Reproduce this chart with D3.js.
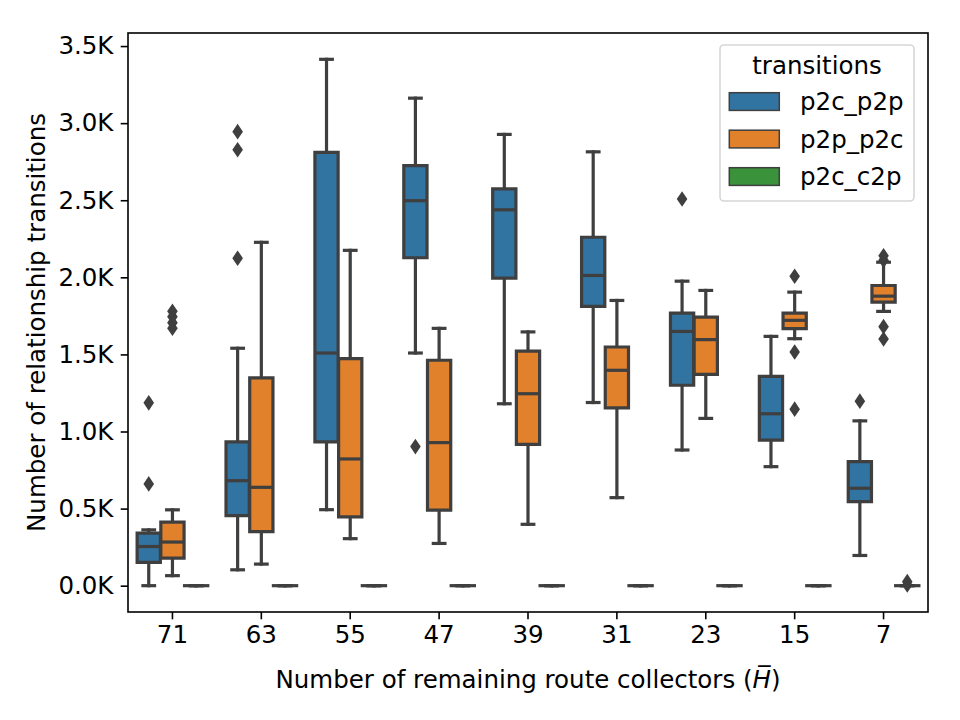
<!DOCTYPE html>
<html>
<head>
<meta charset="utf-8">
<script src="https://cdn.jsdelivr.net/npm/d3@7"></script>
<style>
  body { margin: 0; background: #fff; }
  svg { display: block; font-family: "DejaVu Sans", sans-serif; }
</style>
</head>
<body>
<div id="chart"></div>
<script>
// Categories on the x axis (remaining route collectors)
const categories = ["71", "63", "55", "47", "39", "31", "23", "15", "7"];
const hues = ["p2c_p2p", "p2p_p2c", "p2c_c2p"];
const hueColors = ["#3274a1", "#e1812c", "#3a923a"];

// Box summaries per category: [whiskerLow, q1, median, q3, whiskerHigh]
const p2cP2pStats = [
    [0, 151, 254, 341, 362],
    [103, 455, 681, 933, 1540],
    [493, 933, 1509, 2810, 3414],
    [1509, 2127, 2497, 2725, 3162],
    [1180, 1995, 2438, 2574, 2927],
    [1188, 1811, 2012, 2260, 2814],
    [880, 1300, 1649, 1768, 1975],
    [772, 944, 1115, 1358, 1617],
    [196, 545, 632, 804, 1069]
];
const p2cP2pFliers = [[660, 1186], [2124, 2827, 2945], [], [902], [], [], [2508], [], [1197]];

const p2pP2cStats = [
    [65, 179, 283, 412, 492],
    [140, 351, 638, 1348, 2227],
    [305, 446, 822, 1473, 2175],
    [274, 490, 928, 1462, 1669],
    [398, 916, 1245, 1521, 1646],
    [571, 1153, 1397, 1548, 1850],
    [1085, 1371, 1596, 1742, 1915],
    [1602, 1667, 1721, 1768, 1904],
    [1779, 1839, 1878, 1947, 2098]
];
const p2pP2cFliers = [[1670, 1705, 1745, 1780], [], [], [], [], [], [], [1145, 1516, 2007], [1600, 1680, 2110, 2140]];

const p2cC2pStats = [
    [0, 0, 0, 0, 0], [0, 0, 0, 0, 0], [0, 0, 0, 0, 0],
    [0, 0, 0, 0, 0], [0, 0, 0, 0, 0], [0, 0, 0, 0, 0],
    [0, 0, 0, 0, 0], [0, 0, 0, 0, 0], [0, 0, 0, 0, 0]
];
const p2cC2pFliers = [[], [], [], [], [], [], [], [], [4, 26]];

const yTicks = [0, 500, 1000, 1500, 2000, 2500, 3000, 3500];

const drawBoxChart = (containerId) => {
    const width = 960;
    const height = 720;
    const margin = { top: 33, right: 32, bottom: 108, left: 128 };
    const innerWidth = width - margin.left - margin.right;
    const innerHeight = height - margin.top - margin.bottom;
    const lineColor = "#3f3f3f";
    const lw = 3.2;
    const tickLen = 7.3;
    const fontSize = 24.5;

    const series = [
        { stats: p2cP2pStats, fliers: p2cP2pFliers },
        { stats: p2pP2cStats, fliers: p2pP2cFliers },
        { stats: p2cC2pStats, fliers: p2cC2pFliers }
    ];

    // y domain with matplotlib-like 5% margins
    const allVals = series.flatMap(s => s.stats.flat().concat(s.fliers.flat()));
    const [vMin, vMax] = d3.extent(allVals);
    const pad = (vMax - vMin) * 0.05;

    const xScale = d3.scaleBand()
        .domain(categories)
        .range([0, innerWidth])
        .paddingInner(0)
        .paddingOuter(0);

    const hueScale = d3.scaleBand()
        .domain(hues)
        .range([0, xScale.bandwidth() * 0.8]);

    const yScale = d3.scaleLinear()
        .domain([vMin - pad, vMax + pad])
        .range([innerHeight, 0]);

    const svg = d3.select(containerId)
        .append("svg")
        .attr("width", width)
        .attr("height", height);

    const innerChart = svg.append("g")
        .attr("transform", `translate(${margin.left},${margin.top})`);

    const boxW = hueScale.bandwidth() * 0.98;
    const capW = boxW / 2;
    const groupOffset = xScale.bandwidth() * 0.1;

    // Draw boxes
    series.forEach((s, j) => {
        const g = innerChart.append("g");
        categories.forEach((cat, i) => {
            const [lo, q1, med, q3, hi] = s.stats[i];
            const cx = xScale(cat) + groupOffset + hueScale(hues[j]) + hueScale.bandwidth() / 2;

            // whiskers
            g.append("line")
                .attr("x1", cx).attr("x2", cx)
                .attr("y1", yScale(q1)).attr("y2", yScale(lo))
                .attr("stroke", lineColor).attr("stroke-width", lw)
                .attr("stroke-linecap", "square");
            g.append("line")
                .attr("x1", cx).attr("x2", cx)
                .attr("y1", yScale(q3)).attr("y2", yScale(hi))
                .attr("stroke", lineColor).attr("stroke-width", lw)
                .attr("stroke-linecap", "square");
            // caps
            [lo, hi].forEach(v => {
                g.append("line")
                    .attr("x1", cx - capW / 2).attr("x2", cx + capW / 2)
                    .attr("y1", yScale(v)).attr("y2", yScale(v))
                    .attr("stroke", lineColor).attr("stroke-width", lw)
                    .attr("stroke-linecap", "square");
            });

            // box as a closed path so zero-height boxes still show
            const x0 = cx - boxW / 2, x1 = cx + boxW / 2;
            const yTop = yScale(q3), yBot = yScale(q1);
            if (yBot - yTop < 0.5) {
                g.append("line")
                    .attr("x1", x0).attr("x2", x1)
                    .attr("y1", yTop).attr("y2", yTop)
                    .attr("stroke", lineColor).attr("stroke-width", lw)
                    .attr("stroke-linecap", "square");
            } else {
                g.append("path")
                    .attr("d", `M${x0},${yBot}H${x1}V${yTop}H${x0}Z`)
                    .attr("fill", hueColors[j])
                    .attr("stroke", lineColor)
                    .attr("stroke-width", lw)
                    .attr("stroke-linejoin", "miter");
                // median
                g.append("line")
                    .attr("x1", x0).attr("x2", x1)
                    .attr("y1", yScale(med)).attr("y2", yScale(med))
                    .attr("stroke", lineColor).attr("stroke-width", lw);
            }

            // outliers (thin diamonds)
            s.fliers[i].forEach(v => {
                const y = yScale(v);
                g.append("path")
                    .attr("d", `M${cx},${y - 7.8}L${cx + 5.3},${y}L${cx},${y + 7.8}L${cx - 5.3},${y}Z`)
                    .attr("fill", lineColor);
            });
        });
    });

    // Axes
    const leftAxis = d3.axisLeft(yScale)
        .tickValues(yTicks)
        .tickFormat(d => d3.format(".1f")(d / 1000) + "K")
        .tickSize(tickLen)
        .tickPadding(7.3);

    const bottomAxis = d3.axisBottom(xScale)
        .tickSize(tickLen)
        .tickPadding(6);

    const yAxisG = innerChart.append("g").call(leftAxis);
    const xAxisG = innerChart.append("g")
        .attr("transform", `translate(0,${innerHeight})`)
        .call(bottomAxis);

    [yAxisG, xAxisG].forEach(ax => {
        ax.select(".domain").remove();
        ax.selectAll(".tick line").attr("stroke", "#000").attr("stroke-width", 1.6);
        ax.selectAll(".tick text")
            .attr("fill", "#000")
            .style("font-size", `${fontSize}px`)
            .style("font-family", "DejaVu Sans");
    });

    // frame
    innerChart.append("rect")
        .attr("x", 0).attr("y", 0)
        .attr("width", innerWidth).attr("height", innerHeight)
        .attr("fill", "none")
        .attr("stroke", "#000")
        .attr("stroke-width", 1.6);

    // Axis labels
    const xLabel = svg.append("text")
        .attr("x", margin.left + innerWidth / 2)
        .attr("y", 688)
        .attr("text-anchor", "middle")
        .style("font-size", `${fontSize}px`);
    xLabel.append("tspan").text("Number of remaining route collectors (");
    xLabel.append("tspan").style("font-style", "italic").text("H\u0305");
    xLabel.append("tspan").text(")");

    svg.append("text")
        .attr("transform", `translate(45,${margin.top + innerHeight / 2}) rotate(-90)`)
        .attr("text-anchor", "middle")
        .style("font-size", `${fontSize}px`)
        .text("Number of relationship transitions");

    // Legend
    const legend = svg.append("g");
    legend.append("rect")
        .attr("x", 720).attr("y", 45)
        .attr("width", 194).attr("height", 156)
        .attr("rx", 4)
        .attr("fill", "#fff").attr("fill-opacity", 0.8)
        .attr("stroke", "#d6d6d6").attr("stroke-width", 1.6);
    legend.append("text")
        .attr("x", 817).attr("y", 74)
        .attr("text-anchor", "middle")
        .style("font-size", `${fontSize}px`)
        .text("transitions");
    hues.forEach((h, j) => {
        const y = 92.7 + j * 37.5;
        legend.append("rect")
            .attr("x", 729.3).attr("y", y)
            .attr("width", 50).attr("height", 17.7)
            .attr("fill", hueColors[j])
            .attr("stroke", lineColor).attr("stroke-width", 1.5);
        legend.append("text")
            .attr("x", 800).attr("y", y + 17.5)
            .style("font-size", `${fontSize}px`)
            .text(h);
    });
};

drawBoxChart("#chart");
</script>
</body>
</html>
